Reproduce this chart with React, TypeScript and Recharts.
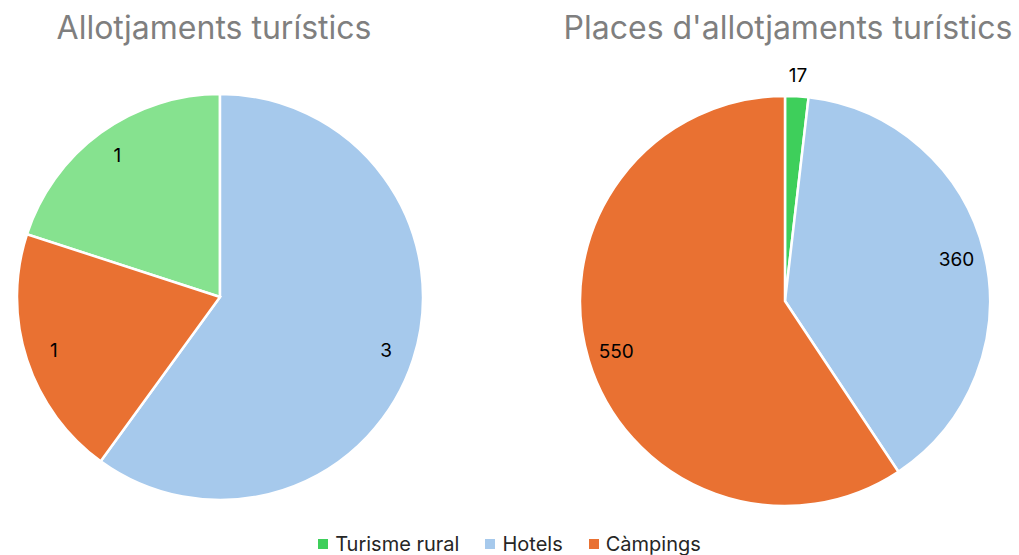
import React from "react";
import { PieChart, Pie, Cell, Legend } from "recharts";

const categories = ["Turisme rural", "Hotels", "Càmpings"];
const establishments = [1, 3, 1];
const places = [17, 360, 550];

const leftColors = ["#86E28F", "#A6C9EC", "#E97132"];
const rightColors = ["#3ECF5B", "#A6C9EC", "#E97132"];

const leftData = categories.map((name, i) => ({ name, value: establishments[i] }));
const rightData = categories.map((name, i) => ({ name, value: places[i] }));

const RADIAN = Math.PI / 180;
const FONT = "Inter, 'Open Sans', sans-serif";

const makeLabel = (total: number) => (props: any) => {
  const { cx, cy, midAngle, outerRadius, value } = props;
  const share = value / total;
  // small slices get their label outside, like Excel's best fit
  const r = outerRadius * (share < 0.05 ? 1.1 : 0.86);
  const x = cx + r * Math.cos(-midAngle * RADIAN);
  const y = cy + r * Math.sin(-midAngle * RADIAN);
  return (
    <text
      x={x}
      y={y}
      fill="#000"
      fontSize={19}
      fontFamily={FONT}
      textAnchor="middle"
      dominantBaseline="central"
    >
      {value}
    </text>
  );
};

const renderLegend = () => (
  <div
    style={{
      display: "flex",
      justifyContent: "center",
      gap: 26,
      fontFamily: FONT,
      fontSize: 20,
      lineHeight: "22px",
      color: "#262626",
    }}
  >
    {categories.map((c, i) => (
      <div key={c} style={{ display: "flex", alignItems: "center", gap: 7 }}>
        <span style={{ width: 10, height: 10, background: rightColors[i], display: "inline-block" }} />
        <span>{c}</span>
      </div>
    ))}
  </div>
);

const sum = (a: number[]) => a.reduce((s, v) => s + v, 0);

export default function App() {
  const titleStyle: React.CSSProperties = {
    position: "absolute",
    top: 8,
    fontFamily: FONT,
    fontSize: 32,
    lineHeight: "40px",
    color: "#7F7F7F",
    textAlign: "center",
    whiteSpace: "nowrap",
  };
  return (
    <div style={{ position: "absolute", left: 0, top: 0, width: 1019, height: 555, background: "#fff", overflow: "hidden" }}>
      <div style={{ ...titleStyle, left: 14, width: 400 }}>Allotjaments turístics</div>
      <div style={{ ...titleStyle, left: 538, width: 500 }}>Places d'allotjaments turístics</div>
      <div style={{ position: "absolute", left: 0, top: 0 }}>
        <PieChart width={1019} height={555} margin={{ top: 0, right: 0, bottom: 0, left: 0 }}>
          <Pie
            data={leftData}
            dataKey="value"
            nameKey="name"
            cx={220}
            cy={297}
            outerRadius={203}
            startAngle={162}
            endAngle={-198}
            stroke="#fff"
            strokeWidth={2.5}
            label={makeLabel(sum(establishments))}
            labelLine={false}
            isAnimationActive={false}
          >
            {leftData.map((d, i) => (
              <Cell key={d.name} fill={leftColors[i]} />
            ))}
          </Pie>
          <Pie
            data={rightData}
            dataKey="value"
            nameKey="name"
            cx={785}
            cy={301}
            outerRadius={205}
            startAngle={90}
            endAngle={-270}
            stroke="#fff"
            strokeWidth={2.5}
            label={makeLabel(sum(places))}
            labelLine={false}
            isAnimationActive={false}
          >
            {rightData.map((d, i) => (
              <Cell key={d.name} fill={rightColors[i]} />
            ))}
          </Pie>
          <Legend
            content={renderLegend}
            verticalAlign="bottom"
            wrapperStyle={{ bottom: 0 }}
          />
        </PieChart>
      </div>
    </div>
  );
}
